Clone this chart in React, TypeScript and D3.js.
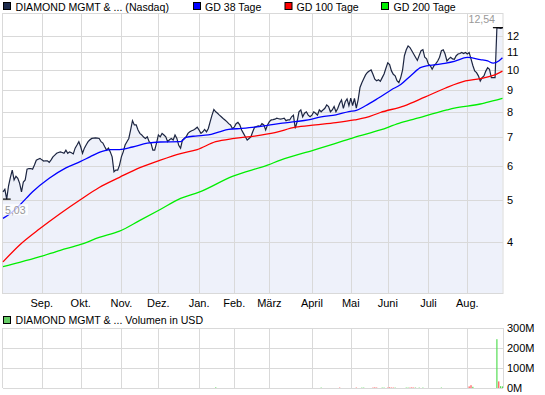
import React from 'react';
import * as d3 from 'd3';

// Daily closes, one per trading day (index 0 = early Aug of previous year)
const closes: number[] = [
  5.23, 5.30, 5.03, 5.40, 5.65, 5.87, 5.57, 5.68, 5.62, 5.47,
  5.23, 5.51, 5.57, 5.90, 5.92, 5.92, 5.90, 6.03, 6.19, 6.22,
  6.25, 6.20, 6.16, 6.17, 6.17, 6.12, 6.20, 6.30, 6.36, 6.42,
  6.45, 6.47, 6.45, 6.42, 6.53, 6.42, 6.47, 6.44, 6.40, 6.60,
  6.71, 6.83, 6.65, 6.42, 6.60, 6.72, 6.83, 6.90, 6.95, 6.96,
  6.97, 6.96, 6.95, 6.83, 6.78, 6.65, 6.53, 6.60, 6.47, 6.30,
  5.82, 5.87, 5.87, 6.03, 6.30, 6.47, 6.71, 6.83, 6.95, 7.27,
  7.64, 7.47, 7.47, 7.27, 7.14, 7.08, 7.00, 6.95, 7.01, 6.83,
  6.78, 6.53, 6.53, 6.78, 7.08, 7.01, 7.14, 7.08, 7.01, 6.83,
  6.90, 6.95, 6.89, 7.08, 6.95, 6.70, 6.60, 6.89, 6.95, 7.01,
  7.14, 7.20, 7.24, 7.27, 7.32, 7.38, 7.27, 7.14, 7.20, 7.29,
  7.20, 7.33, 7.60, 7.87, 8.11, 8.01, 7.95, 7.87, 7.80, 7.73,
  7.67, 7.60, 7.52, 7.47, 7.33, 7.38, 7.52, 7.57, 7.47, 7.27,
  7.14, 7.01, 6.89, 6.95, 7.01, 7.20, 7.38, 7.40, 7.43, 7.41,
  7.52, 7.47, 7.27, 7.47, 7.60, 7.67, 7.68, 7.70, 7.74, 7.72,
  7.70, 7.72, 7.74, 7.64, 7.67, 7.67, 7.80, 7.87, 7.33, 7.60,
  8.01, 8.09, 7.80, 7.95, 8.01, 7.87, 7.80, 7.87, 8.01, 7.95,
  7.87, 8.09, 8.01, 8.09, 8.16, 8.31, 8.24, 8.01, 8.09, 8.24,
  8.01, 8.16, 8.38, 8.53, 8.16, 8.45, 8.58, 8.28, 8.62, 8.28,
  8.60, 8.17, 8.55, 9.12, 9.35, 9.55, 9.75, 9.88, 9.95, 10.01,
  9.78, 9.53, 9.45, 9.50, 9.42, 9.61, 9.80, 10.10, 10.40, 10.30,
  9.96, 9.78, 9.70, 9.45, 9.36, 9.61, 10.00, 10.80, 11.15, 11.38,
  11.28, 11.09, 10.90, 10.71, 10.53, 10.82, 11.09, 11.15, 10.71, 10.62,
  10.32, 10.24, 10.05, 10.24, 10.36, 10.50, 10.71, 11.09, 11.15, 10.90,
  10.50, 10.62, 10.71, 10.62, 10.60, 10.80, 10.90, 10.93, 10.99, 10.93,
  10.99, 10.90, 10.99, 10.62, 10.25, 9.96, 9.87, 9.70, 9.44, 9.61,
  9.70, 9.95, 10.13, 10.05, 9.61, 9.61, 9.61, 12.54, 12.52, 12.50,
  12.52,
];

// Moving averages (trading-day index, value)
const ma38Idx = [0, 4, 9, 16, 25, 34, 42, 47, 52, 58, 63, 70, 78, 85, 96, 99, 104, 111, 117, 122, 129, 136, 143, 151, 158, 165, 172, 180, 187, 191, 196, 203, 210, 215, 221, 226, 237, 244, 251, 258, 262, 265, 268, 270];
const ma38Val = [4.54, 4.66, 4.87, 5.23, 5.62, 5.94, 6.15, 6.30, 6.45, 6.55, 6.55, 6.64, 6.78, 6.82, 6.83, 6.99, 7.04, 7.08, 7.20, 7.29, 7.33, 7.38, 7.45, 7.54, 7.60, 7.67, 7.80, 7.88, 8.02, 8.07, 8.27, 8.62, 9.01, 9.26, 9.76, 10.15, 10.34, 10.48, 10.70, 10.58, 10.50, 10.38, 10.50, 10.68];

const ma100Idx = [0, 9, 20, 31, 42, 52, 63, 74, 85, 96, 105, 115, 125, 136, 147, 158, 169, 180, 190, 196, 204, 217, 228, 239, 250, 258, 265, 270];
const ma100Val = [3.60, 3.94, 4.30, 4.66, 5.02, 5.35, 5.65, 5.95, 6.19, 6.41, 6.55, 6.83, 6.95, 7.04, 7.17, 7.38, 7.47, 7.56, 7.67, 7.76, 7.98, 8.27, 8.66, 9.08, 9.44, 9.56, 9.72, 9.95];

const ma200Idx = [0, 9, 20, 31, 42, 52, 63, 74, 85, 96, 106, 124, 143, 150, 168, 179, 190, 204, 214, 223, 240, 244, 258, 261, 270];
const ma200Val = [3.51, 3.59, 3.70, 3.83, 3.95, 4.10, 4.24, 4.49, 4.76, 5.05, 5.22, 5.68, 6.03, 6.19, 6.53, 6.75, 6.99, 7.27, 7.53, 7.72, 8.09, 8.17, 8.35, 8.41, 8.61];

// Volume in million USD
const volIdx = [115, 172, 182, 191, 194, 195, 200, 201, 202, 205, 206, 208, 209, 210, 211, 212, 218, 219, 220, 221, 222, 223, 225, 227, 237, 252, 253, 254, 267, 268, 269, 270];
const volVal = [3, 2, 2, 2, 2, 2, 2, 3, 2, 2, 2, 2, 3, 2, 2, 2, 2, 2, 2, 3, 2, 2, 2, 2, 2, 8, 14, 6, 244, 33, 9, 8];
const volUp = [1, 1, 0, 0, 1, 1, 0, 0, 0, 1, 1, 0, 0, 0, 0, 1, 1, 1, 0, 0, 0, 1, 1, 1, 1, 0, 0, 1, 1, 0, 1, 1];

const monthLabels = ['Sep.', 'Okt.', 'Nov.', 'Dez.', 'Jan.', 'Feb.', 'März', 'April', 'Mai', 'Juni', 'Juli', 'Aug.'];
const monthIdx = [21, 42, 64, 84, 106, 125, 144, 167, 188, 208, 230, 251];
const priceTicks = [4, 5, 6, 7, 8, 9, 10, 11, 12];
const volTicks = [0, 100, 200, 300];
const volTickLabels = ['0M', '100M', '200M', '300M'];

const seriesName = 'DIAMOND MGMT & ... (Nasdaq)';
const volName = 'DIAMOND MGMT & ... Volumen in USD';
const legendItems = [
  { label: 'GD 38 Tage', color: '#0000ff' },
  { label: 'GD 100 Tage', color: '#ff0000' },
  { label: 'GD 200 Tage', color: '#00ee00' },
];

const FONT = '"Liberation Sans", Arial, sans-serif';

export default function App() {
  const L = 3, R = 503, T = 13, B = 293;
  const VT = 328, VB = 388;
  const x = d3.scaleLinear().domain([0, 270.3]).range([L, R]);
  const y = d3.scaleLog().domain([3.05, 13.56]).range([B, T]);
  const yv = d3.scaleLinear().domain([0, 300]).range([VB, VT]);

  const priceLine = d3.line<number>().x((_, i) => x(i)).y((d) => y(d));
  const priceArea = d3.area<number>().x((_, i) => x(i)).y0(B).y1((d) => y(d));
  const maLine = d3
    .line<[number, number]>()
    .x((d) => x(d[0]))
    .y((d) => y(d[1]))
    .curve(d3.curveMonotoneX);
  const pairs = (a: number[], b: number[]) => a.map((v, i) => [v, b[i]] as [number, number]);

  const minV = d3.min(closes)!;
  const maxV = d3.max(closes)!;
  const minI = closes.indexOf(minV);
  const maxI = closes.indexOf(maxV);
  const fmt = (v: number) => v.toFixed(2).replace('.', ',');

  const grid = '#d9d9d9';
  const legendXs = [193.5, 285, 381.5];
  const legendTextXs = [205, 296.5, 393.5];

  return (
    <svg
      width={545}
      height={395}
      style={{ position: 'absolute', left: 0, top: 0, background: '#fff' }}
      fontFamily={FONT}
    >
      <rect x={0} y={0} width={545} height={395} fill="#fff" />
      {/* legend */}
      <rect x={3.5} y={2.5} width={7} height={7} fill="#1c2a4c" stroke="#000" />
      <text x={15.5} y={10.5} fontSize={10.6} fill="#000">{seriesName}</text>
      {legendItems.map((it, i) => (
        <g key={it.label}>
          <rect x={legendXs[i]} y={2.5} width={7} height={7} fill={it.color} stroke="#000" />
          <text x={legendTextXs[i]} y={10.5} fontSize={10.6} fill="#000">{it.label}</text>
        </g>
      ))}

      {/* price panel */}
      <path d={priceArea(closes)!} fill="#eef1fa" />
      {priceTicks.map((t) => (
        <line key={t} x1={L} x2={R} y1={Math.round(y(t)) + 0.5} y2={Math.round(y(t)) + 0.5} stroke={grid} />
      ))}
      {monthIdx.map((m) => (
        <line key={m} x1={Math.round(x(m)) + 0.5} x2={Math.round(x(m)) + 0.5} y1={T} y2={B} stroke={grid} />
      ))}
      <rect x={L - 0.5} y={T + 0.5} width={R - L + 0.5} height={B - T} fill="none" stroke={grid} />

      <path d={priceLine(closes)!} fill="none" stroke="#1c2541" strokeWidth={1.2} />
      <path d={maLine(pairs(ma200Idx, ma200Val))!} fill="none" stroke="#00ee00" strokeWidth={1.3} />
      <path d={maLine(pairs(ma100Idx, ma100Val))!} fill="none" stroke="#ff0000" strokeWidth={1.3} />
      <path d={maLine(pairs(ma38Idx, ma38Val))!} fill="none" stroke="#0000ff" strokeWidth={1.3} />

      {/* min / max markers */}
      <line x1={L} x2={x(minI) + 4} y1={y(minV)} y2={y(minV)} stroke="#000" strokeWidth={1.2} />
      <rect x={L} y={y(minV) + 5} width={25} height={11} fill="#fff" opacity={0.75} />
      <text x={5} y={y(minV) + 14.5} fontSize={10.6} fill="#999">{fmt(minV)}</text>
      <line x1={x(maxI) - 4} x2={R} y1={y(maxV)} y2={y(maxV)} stroke="#000" strokeWidth={1.2} />
      <rect x={469} y={T + 1} width={27} height={10} fill="#fff" />
      <text x={495} y={22.5} fontSize={10.6} fill="#999" textAnchor="end">{fmt(maxV)}</text>

      {priceTicks.map((t) => (
        <text key={t} x={507} y={y(t) + 4} fontSize={11} fill="#000">{t}</text>
      ))}
      {monthIdx.map((m, i) => (
        <text key={m} x={x(m)} y={306.5} fontSize={11} fill="#000" textAnchor="middle">
          {monthLabels[i]}
        </text>
      ))}

      {/* volume panel */}
      <rect x={3.5} y={316.5} width={7} height={7} fill="#66cc66" stroke="#000" />
      <text x={15.5} y={324} fontSize={10.6} fill="#000">{volName}</text>
      {volTicks.map((t) => (
        <line key={t} x1={L} x2={R} y1={Math.round(yv(t)) + 0.5} y2={Math.round(yv(t)) + 0.5} stroke={grid} />
      ))}
      {monthIdx.map((m) => (
        <line key={m} x1={Math.round(x(m)) + 0.5} x2={Math.round(x(m)) + 0.5} y1={VT} y2={VB} stroke={grid} />
      ))}
      <line x1={L - 0.5} x2={L - 0.5} y1={VT} y2={VB} stroke={grid} />
      <line x1={R + 0.5} x2={R + 0.5} y1={VT} y2={VB} stroke={grid} />
      {volIdx.map((vi, i) => (
        <rect
          key={vi}
          x={x(vi) - 0.6}
          y={yv(volVal[i])}
          width={1.2}
          height={VB - yv(volVal[i])}
          fill={volUp[i] ? '#55dd55' : '#ff5555'}
        />
      ))}
      {volTicks.map((t, i) => (
        <text key={t} x={507} y={yv(t) + 4} fontSize={11} fill="#000">{volTickLabels[i]}</text>
      ))}
    </svg>
  );
}
